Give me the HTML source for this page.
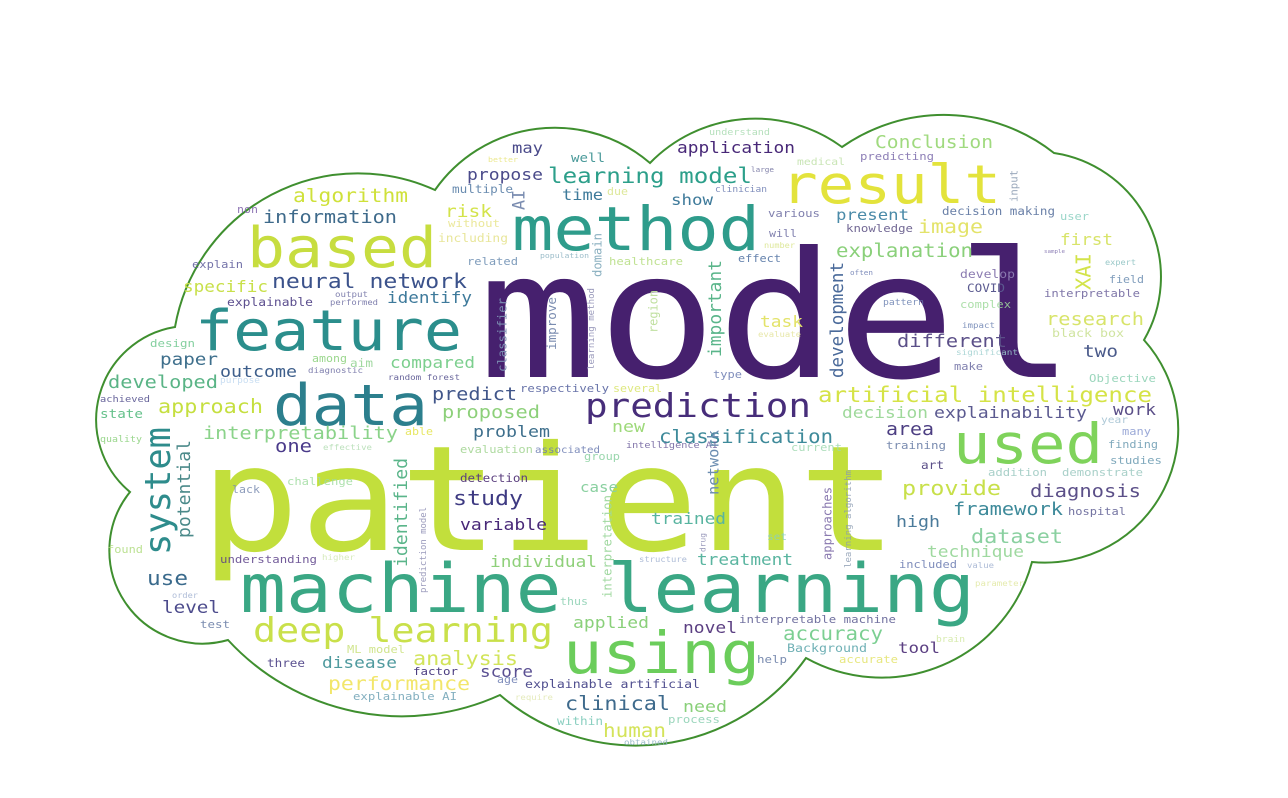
<!DOCTYPE html>
<html>
<head>
<meta charset="utf-8">
<style>
  html, body { margin:0; padding:0; background:#ffffff; }
  #wrap { width:1288px; height:798px; position:relative; overflow:hidden; background:#fff; }
  svg text { font-family:"DejaVu Sans Mono","Liberation Mono",monospace; }
</style>
</head>
<body>
<div id="wrap">
<svg id="cloud" width="1288" height="798" viewBox="0 0 1288 798">
  <path id="outline" fill="none" stroke="#3f8f2f" stroke-width="2"></path>
  <g id="words"></g>
</svg>
</div>
<script>
// Horizontal words: [text, left x, right x, baseline y, colour]
const hWords = [
["model",478,1075,377,"#46206e"],
["patient",200,898,550,"#c2df3c"],
["machine learning",240,975,612,"#3aa784"],
["using",563,760,673,"#6bcd5b"],
["data",273,428,425,"#2c7f8d"],
["feature",195,462,350,"#2b8e8c"],
["based",247,437,267,"#c7dd3f"],
["method",512,760,250,"#2e9c8b"],
["result",781,1001,203,"#e3e33c"],
["used",953,1103,463,"#7fd35b"],
["prediction",585,811,417,"#472d7a"],
["deep learning",253,553,642,"#c9e04a"],
["artificial intelligence",818,1152,402,"#d5e346"],
["learning model",548,752,183,"#2c9f8a"],
["application",677,795,153,"#482878"],
["Conclusion",875,993,148,"#a0da7f"],
["understand",709,770,135,"#a8dbb0"],
["well",571,605,162,"#4a9a9a"],
["medical",797,845,165,"#c0e0a8"],
["predicting",860,934,160,"#7a6aaa"],
["large",751,774,172,"#6a6a9a"],
["time",562,603,200,"#3e7a9a"],
["due",607,628,195,"#d8e48a"],
["clinician",715,767,192,"#6a7ab0"],
["show",671,713,205,"#3e7a9a"],
["various",768,820,217,"#6a6aa0"],
["present",836,909,220,"#4a8aa8"],
["decision making",942,1055,215,"#6a80a8"],
["user",1060,1089,220,"#8acfc0"],
["will",769,797,237,"#6a6aa0"],
["knowledge",846,913,232,"#5b4f82"],
["image",918,983,233,"#e3e36a"],
["first",1060,1113,245,"#d8e46a"],
["number",764,795,248,"#d8e48a"],
["population",540,589,258,"#8ab0c0"],
["healthcare",609,683,265,"#b5dd80"],
["effect",738,781,262,"#4c6fa0"],
["explanation",836,973,257,"#8ad07a"],
["sample",1044,1065,253,"#7a6aaa"],
["expert",1105,1136,265,"#8ac0c0"],
["field",1109,1144,283,"#6a8cb0"],
["develop",960,1015,278,"#8a7ab0"],
["COVID",967,1005,292,"#5b5a90"],
["often",850,873,275,"#6a7ab0"],
["interpretable",1044,1140,297,"#6a5f9a"],
["complex",960,1011,308,"#9fd99b"],
["pattern",883,924,305,"#6a80b0"],
["task",760,803,327,"#e3e36a"],
["evaluate",758,801,337,"#e3e39a"],
["impact",962,995,328,"#6a80b0"],
["research",1046,1144,325,"#d8e46a"],
["black box",1052,1124,337,"#d0e4a0"],
["different",897,1007,347,"#5b4f88"],
["two",1083,1118,357,"#4a5a8a"],
["significant",956,1018,355,"#a0d0d0"],
["make",954,983,370,"#6a6aa0"],
["Objective",1089,1156,382,"#8acfb0"],
["type",713,742,378,"#6a7ab0"],
["respectively",520,609,392,"#4d5a9a"],
["several",613,662,392,"#d8e46a"],
["decision",842,928,418,"#9fd99b"],
["explainability",934,1087,418,"#5b5a90"],
["work",1113,1156,415,"#5b4f88"],
["year",1101,1128,423,"#a0c0d0"],
["may",512,543,153,"#4a4a8a"],
["better",488,518,162,"#e8e47a"],
["propose",467,543,180,"#4a4a8a"],
["multiple",452,513,193,"#6a8cb0"],
["algorithm",293,408,202,"#cfe13a"],
["non",237,258,213,"#7b5ea7"],
["information",263,397,223,"#3e6a8b"],
["risk",445,492,217,"#d3e34a"],
["without",448,500,227,"#e8e48a"],
["including",438,508,242,"#e8e69a"],
["explain",192,243,268,"#5c5a9a"],
["related",467,518,265,"#6a8cb0"],
["specific",183,268,292,"#c8e04a"],
["neural network",272,467,288,"#3b528b"],
["identify",387,472,303,"#3e7a9b"],
["output",335,368,297,"#6a6aa0"],
["explainable",227,313,306,"#5c4f8f"],
["performed",330,378,305,"#6a6aa0"],
["design",150,195,347,"#85d0a0"],
["paper",160,218,365,"#3e6f8c"],
["among",312,347,362,"#8ad07a"],
["aim",350,373,367,"#a0d8a0"],
["compared",390,475,368,"#7ccf8e"],
["outcome",220,297,377,"#3e5f8c"],
["diagnostic",308,363,373,"#6a6aa0"],
["random forest",388,460,380,"#4d4a8a"],
["developed",108,218,388,"#5ab486"],
["purpose",220,260,383,"#c0d8f0"],
["predict",432,517,400,"#41568a"],
["achieved",100,150,402,"#4d4a8a"],
["approach",158,263,413,"#c5df3f"],
["state",100,143,418,"#65c18b"],
["proposed",442,540,418,"#8dd07a"],
["interpretability",203,398,439,"#8bd38a"],
["able",405,433,435,"#e3e34a"],
["problem",473,550,437,"#3e6f8c"],
["quality",100,142,442,"#8ad07a"],
["one",275,312,452,"#4a3a8a"],
["effective",323,372,450,"#b0dcb0"],
["evaluation",460,533,453,"#a0d48f"],
["associated",535,600,453,"#6a7ab0"],
["challenge",287,353,485,"#a0dca0"],
["lack",232,260,493,"#7a8cb0"],
["detection",460,528,482,"#5b3f7f"],
["study",453,523,505,"#3e3a82"],
["variable",460,547,530,"#482878"],
["found",107,143,553,"#b0dc80"],
["understanding",220,317,563,"#5b3f88"],
["higher",322,355,560,"#d0e8b0"],
["individual",490,597,567,"#8fd07a"],
["use",147,188,585,"#3a6a8c"],
["order",172,198,598,"#a0b0d0"],
["level",162,220,613,"#4c4b8c"],
["thus",560,588,605,"#8acfb0"],
["test",200,230,628,"#7a8cb0"],
["ML model",347,405,653,"#c9e07a"],
["three",267,305,667,"#5b5190"],
["disease",322,397,668,"#4f9a9e"],
["analysis",413,518,665,"#d2e45a"],
["factor",413,458,675,"#4c3e82"],
["score",480,533,677,"#5a4f92"],
["performance",328,470,690,"#f2e66a"],
["age",497,518,683,"#6a7ab0"],
["explainable artificial",525,700,688,"#504f8f"],
["explainable AI",353,457,700,"#6fa2b5"],
["require",515,553,700,"#e0e8b0"],
["clinical",565,670,710,"#3e6a8c"],
["within",557,603,725,"#8acfc0"],
["new",612,645,432,"#9ed97a"],
["classification",659,833,443,"#3e8a9a"],
["area",886,934,435,"#4c3e82"],
["training",886,946,449,"#7a8cb0"],
["art",921,944,469,"#5b4f88"],
["addition",988,1047,476,"#9ac8c0"],
["demonstrate",1062,1143,476,"#9ac8c0"],
["finding",1108,1158,448,"#6a9ab0"],
["studies",1110,1162,464,"#6a9ab0"],
["many",1122,1151,435,"#8a9ad0"],
["provide",902,1001,495,"#c8e04a"],
["diagnosis",1030,1141,497,"#5b4f88"],
["framework",953,1063,515,"#3e8a9a"],
["hospital",1068,1126,515,"#5b5a90"],
["high",896,940,527,"#4a7a9a"],
["dataset",971,1063,543,"#8ad0a0"],
["technique",927,1024,557,"#9fd9a0"],
["included",899,957,568,"#6a7ab0"],
["value",967,994,568,"#a0b0d0"],
["parameter",975,1024,586,"#e0e8a0"],
["trained",651,726,524,"#58b4a0"],
["set",767,787,540,"#8acfc0"],
["treatment",697,793,565,"#5ab5a0"],
["structure",639,687,562,"#a0b0d0"],
["case",580,618,492,"#8ad0a0"],
["intelligence AI",626,718,448,"#6a5a9a"],
["current",791,842,451,"#a0d8b0"],
["group",584,620,460,"#8ad0a0"],
["applied",573,649,628,"#8ad07a"],
["novel",683,737,633,"#5b3f82"],
["interpretable machine",739,896,623,"#5b5a90"],
["accuracy",783,883,640,"#7ccf92"],
["Background",787,867,652,"#6fb0b5"],
["help",757,787,663,"#7a8cb0"],
["accurate",839,898,663,"#e3e36a"],
["tool",898,940,653,"#5b3f82"],
["brain",936,965,642,"#d0e8a0"],
["need",683,727,712,"#8ad07a"],
["process",668,720,723,"#8acfb0"],
["human",603,666,737,"#d4e35a"],
["obtained",624,668,745,"#8ab0c0"]
];
// Vertical words (read bottom-to-top): [text, col left, col right, top y, bottom y, colour]
const vWords = [
["system",143,178,427,555,"#2e8c8c"],
["potential",180,194,440,538,"#4b8a8a"],
["identified",397,411,458,567,"#5ab58a"],
["prediction model",420,428,507,593,"#8a8ab0"],
["AI",517,528,190,210,"#7a8cb0"],
["domain",595,604,233,277,"#8ab0c0"],
["input",1011,1020,170,202,"#8a9ab0"],
["XAI",1079,1095,253,290,"#d3e34a"],
["important",711,725,260,357,"#5ab58a"],
["development",834,847,262,378,"#4a6a9a"],
["improve",550,559,297,350,"#7a8cb0"],
["learning method",589,596,288,370,"#8a8ab0"],
["region",650,660,290,333,"#c0e0a0"],
["classifier",498,509,298,372,"#7a8cb0"],
["network",712,722,430,495,"#6a8cb0"],
["approaches",823,834,487,560,"#8a7ab0"],
["learning algorithm",844,853,470,568,"#8a9ab0"],
["drug",700,707,533,552,"#8a8ab0"],
["interpretation",603,614,495,598,"#a0d8a0"]
];
// Cloud outline: start notch then [end x, end y, bump sag]
const outlineStart = [175,327];
const outlineBumps = [
[435,190,72],[650,163,48],[842,147,36],[1054,153,35],[1144,340,55],
[1032,562,85],[806,658,60],[500,695,68],[228,640,45],[130,492,65],[175,327,55]
];

const NS = "http://www.w3.org/2000/svg";
const layer = document.getElementById("words");
const H_SCALE = 0.88;

function slug(t){ return t.toLowerCase().replace(/[^a-z0-9]+/g,"-"); }

hWords.forEach(w => {
  const [t,x1,x2,by,col] = w;
  const len = x2 - x1;
  const size = len / (t.length * 0.6) * H_SCALE;
  const el = document.createElementNS(NS,"text");
  el.setAttribute("x", x1);
  el.setAttribute("y", by);
  el.setAttribute("font-size", size.toFixed(2));
  el.setAttribute("textLength", len);
  el.setAttribute("lengthAdjust", "spacingAndGlyphs");
  el.setAttribute("fill", col);
  if (size < 11) el.setAttribute("fill-opacity", "0.85");
  
  
  el.textContent = t;
  layer.appendChild(el);
});

vWords.forEach(w => {
  const [t,xa,xb,yt,yb,col] = w;
  const len = yb - yt;
  const size = len / (t.length * 0.6);
  const bx = xb - 0.22 * size;
  const el = document.createElementNS(NS,"text");
  el.setAttribute("x", 0);
  el.setAttribute("y", 0);
  el.setAttribute("transform", "translate(" + bx.toFixed(1) + "," + yb + ") rotate(-90)");
  el.setAttribute("font-size", size.toFixed(2));
  el.setAttribute("textLength", len);
  el.setAttribute("lengthAdjust", "spacingAndGlyphs");
  el.setAttribute("fill", col);
  if (size < 11) el.setAttribute("fill-opacity", "0.85");
  
  
  el.textContent = t;
  layer.appendChild(el);
});

// build outline path from arcs
let d = "M" + outlineStart[0] + " " + outlineStart[1];
let px = outlineStart[0], py = outlineStart[1];
outlineBumps.forEach(b => {
  const [ex,ey,s] = b;
  const L = Math.hypot(ex-px, ey-py);
  const r = (L*L/4 + s*s) / (2*s);
  const large = s > L/2 ? 1 : 0;
  d += " A" + r.toFixed(1) + " " + r.toFixed(1) + " 0 " + large + " 1 " + ex + " " + ey;
  px = ex; py = ey;
});
document.getElementById("outline").setAttribute("d", d + " Z");
</script>
</body>
</html>
